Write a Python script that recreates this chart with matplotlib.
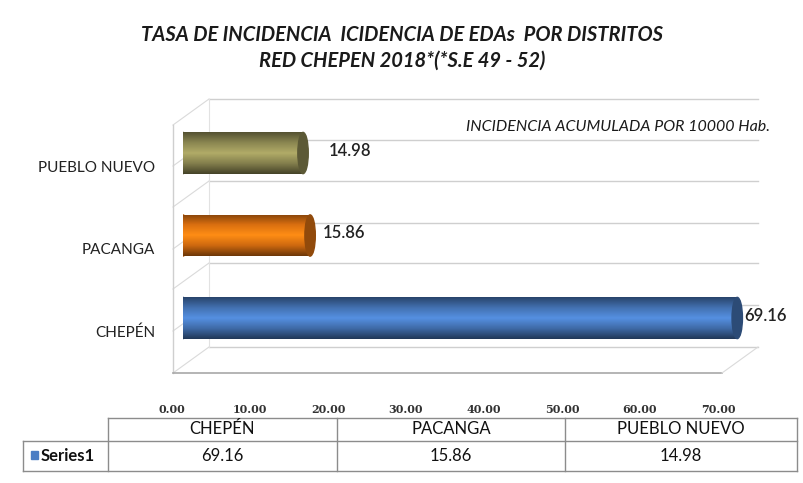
import numpy as np
import matplotlib
matplotlib.use('Agg')
import matplotlib.pyplot as plt
from matplotlib.colors import LinearSegmentedColormap, to_rgb
from matplotlib.patches import Ellipse, Rectangle

plt.rcParams['font.family'] = ['Lato', 'DejaVu Sans']

# datos
distritos = ['CHEPÉN', 'PACANGA', 'PUEBLO NUEVO']
tasa = [69.16, 15.86, 14.98]
colores = ['#4A7DC4', '#F27B12', '#9A955A']
serie = 'Series1'
ticks_x = np.arange(0, 71, 10)
titulo = 'TASA DE INCIDENCIA  ICIDENCIA DE EDAs  POR DISTRITOS\nRED CHEPEN 2018*(*S.E 49 - 52)'
nota = 'INCIDENCIA ACUMULADA POR 10000 Hab.'

W, H = 804, 483
fig = plt.figure(figsize=(W / 100, H / 100), dpi=100)

# capa de fondo en pixeles (paredes 3D y tabla)
bg = fig.add_axes([0, 0, 1, 1], zorder=0)
bg.set_xlim(0, W)
bg.set_ylim(H, 0)
bg.axis('off')

gris = '#CFCFCF'
muro_y = [99, 140, 181, 223, 263, 305, 347]
for yb in muro_y:
    bg.plot([209, 758], [yb, yb], color=gris, lw=1)
    bg.plot([209, 173], [yb, yb + 26], color='#DADADA', lw=0.8)
bg.plot([209, 209], [99, 347], color='#E2E2E2', lw=0.8)
bg.plot([173, 173], [125, 373], color=gris, lw=1)
bg.plot([173, 722], [373, 373], color='#A8A8A8', lw=1.2)
bg.plot([758, 722], [347, 373], color='#DADADA', lw=0.8)

# ejes de las barras
L, R, T, B = 183, 760, 99, 373
ax = fig.add_axes([L / W, 1 - B / H, (R - L) / W, (B - T) / H], zorder=2)
ax.set_facecolor('none')
ax.set_xlim(0, 72)
ax.set_ylim(-0.667, 2.655)
ax.axis('off')

y = np.arange(len(distritos))
alto = 0.5
bars = ax.barh(y, tasa, height=alto, color=colores, zorder=3)
for b, c in zip(bars, colores):
    rgb = np.array(to_rgb(c))
    cmap = LinearSegmentedColormap.from_list(
        'c', [rgb * 0.45, rgb * 0.85, np.minimum(rgb * 1.15, 1), rgb * 0.9, rgb * 0.55])
    x0, y0 = b.get_x(), b.get_y()
    w, h = b.get_width(), b.get_height()
    grad = np.linspace(0, 1, 100).reshape(-1, 1)
    im = ax.imshow(grad, cmap=cmap, aspect='auto', extent=[x0, x0 + w, y0, y0 + h],
                   origin='lower', zorder=4)
    im.set_clip_path(b)
    ax.add_patch(Ellipse((x0, y0 + h / 2), 1.3, h, color=rgb * 0.8, zorder=3.5))
    ax.add_patch(Ellipse((x0 + w, y0 + h / 2), 1.3, h, color=rgb * 0.6, zorder=5))

desp = [0.9, 1.6, 3.2]
for yi, v, d in zip(y, tasa, desp):
    ax.text(v + d, yi + 0.03, f'{v:.2f}', va='center', ha='left', fontsize=12,
            fontweight='semibold', color='#222222', zorder=6)

for yi, nombre in zip(y, distritos):
    ax.text(-0.048, yi - 0.18, nombre, transform=ax.get_yaxis_transform(),
            ha='right', va='center', fontsize=11, color='#222222')

# eje x delantero (etiquetas)
ax2 = fig.add_axes([172 / W, 1 - 373 / H, (718 - 172) / W, 0.0001], zorder=1)
ax2.set_xlim(0, 70)
ax2.set_xticks(ticks_x)
ax2.set_xticklabels([f'{t:.2f}' for t in ticks_x], fontsize=8, fontweight='bold',
                    color='#333333', family=['DejaVu Serif'])
ax2.tick_params(axis='x', length=0, pad=22)
ax2.set_yticks([])
for s in ax2.spines.values():
    s.set_visible(False)
ax2.set_facecolor('none')

# titulo y nota
fig.text(0.5, 1 - 48 / H, titulo, ha='center', va='center', fontsize=14.5,
         fontweight='bold', fontstyle='italic', color='#1A1A1A', linespacing=1.4)
fig.text(770 / W, 1 - 127 / H, nota, ha='right', va='center', fontsize=11.5,
         fontstyle='italic', color='#1A1A1A')

# tabla de datos
cols = [108, 337, 565, 797]
ty0, ty1, ty2 = 418, 441, 471
lc = '#8C8C8C'
bg.plot([cols[0], cols[-1]], [ty0, ty0], color=lc, lw=1)
bg.plot([23, cols[-1]], [ty1, ty1], color=lc, lw=1)
bg.plot([23, cols[-1]], [ty2, ty2], color=lc, lw=1)
bg.plot([23, 23], [ty1, ty2], color=lc, lw=1)
for cx in cols:
    bg.plot([cx, cx], [ty0, ty2], color=lc, lw=1)
for i, (nombre, v) in enumerate(zip(distritos, tasa)):
    xc = (cols[i] + cols[i + 1]) / 2
    bg.text(xc, (ty0 + ty1) / 2, nombre, ha='center', va='center', fontsize=12, color='#111111')
    bg.text(xc, (ty1 + ty2) / 2, f'{v:.2f}', ha='center', va='center', fontsize=12, color='#111111')
bg.add_patch(Rectangle((31, 451), 7, 8, color=colores[0]))
bg.text(41, (ty1 + ty2) / 2, serie, ha='left', va='center', fontsize=12,
        fontweight='bold', color='#111111')

fig.savefig('out.png', dpi=100)
